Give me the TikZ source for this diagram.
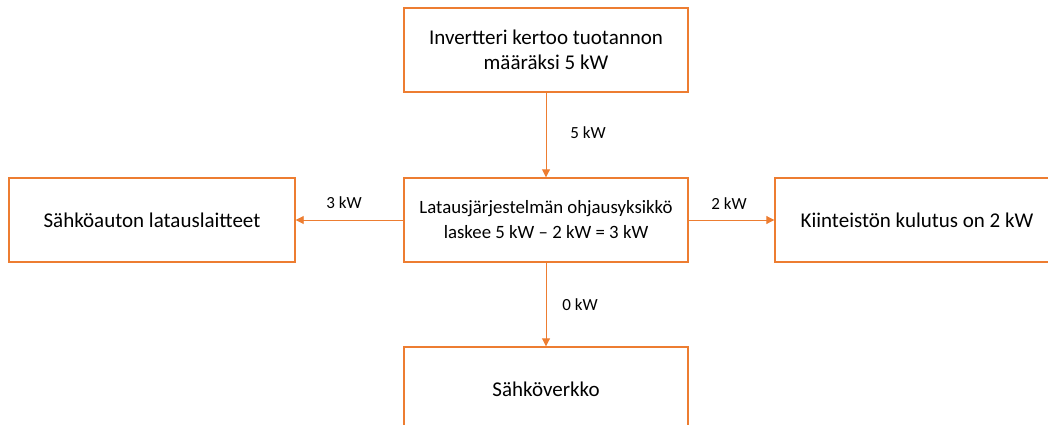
\documentclass[tikz,border=0pt]{standalone}
\usepackage{fontspec}
\setmainfont{Carlito}
\usetikzlibrary{arrows.meta}
\definecolor{oranssi}{HTML}{ED7D31}
\begin{document}
\begin{tikzpicture}[x=1pt,y=-1pt,
		laatikko/.style={draw=oranssi,line width=1.4pt,minimum height=84pt,align=center,font=\fontsize{21}{25}\selectfont,inner sep=2pt},
		nuoli/.style={draw=oranssi,line width=0.9pt,-{Triangle[length=8pt,width=8pt]}},
		teho/.style={font=\fontsize{17}{20}\selectfont}]
			\useasboundingbox (0,0) rectangle (1048,425);
			\clip (0,0) rectangle (1048,425);
			\node[laatikko,minimum width=284pt] (invertteri) at (546,50) {Invertteri kertoo tuotannon\\määräksi 5 kW};
			\node[laatikko,minimum width=284pt,font=\fontsize{18.8}{25}\selectfont] (ohjaus) at (546,220) {Latausjärjestelmän ohjausyksikkö\\laskee 5 kW -- 2 kW = 3 kW};
			\node[laatikko,minimum width=286pt] (lataus) at (152,220) {Sähköauton latauslaitteet};
			\node[laatikko,minimum width=284pt] (kiinteisto) at (917,220) {Kiinteistön kulutus on 2 kW};
			\node[laatikko,minimum width=284pt] (verkko) at (546,389) {Sähköverkko};
			\draw[nuoli] (invertteri) -- (ohjaus);
			\draw[nuoli] (ohjaus) -- (lataus);
			\draw[nuoli] (ohjaus) -- (kiinteisto);
			\draw[nuoli] (ohjaus) -- (verkko);
			\node[teho] (t5) at (588,133) {5 kW};
			\node[teho] (t3) at (344,203) {3 kW};
			\node[teho] (t2) at (729,204) {2 kW};
			\node[teho] (t0) at (580,305) {0 kW};
		\end{tikzpicture}
\end{document}
